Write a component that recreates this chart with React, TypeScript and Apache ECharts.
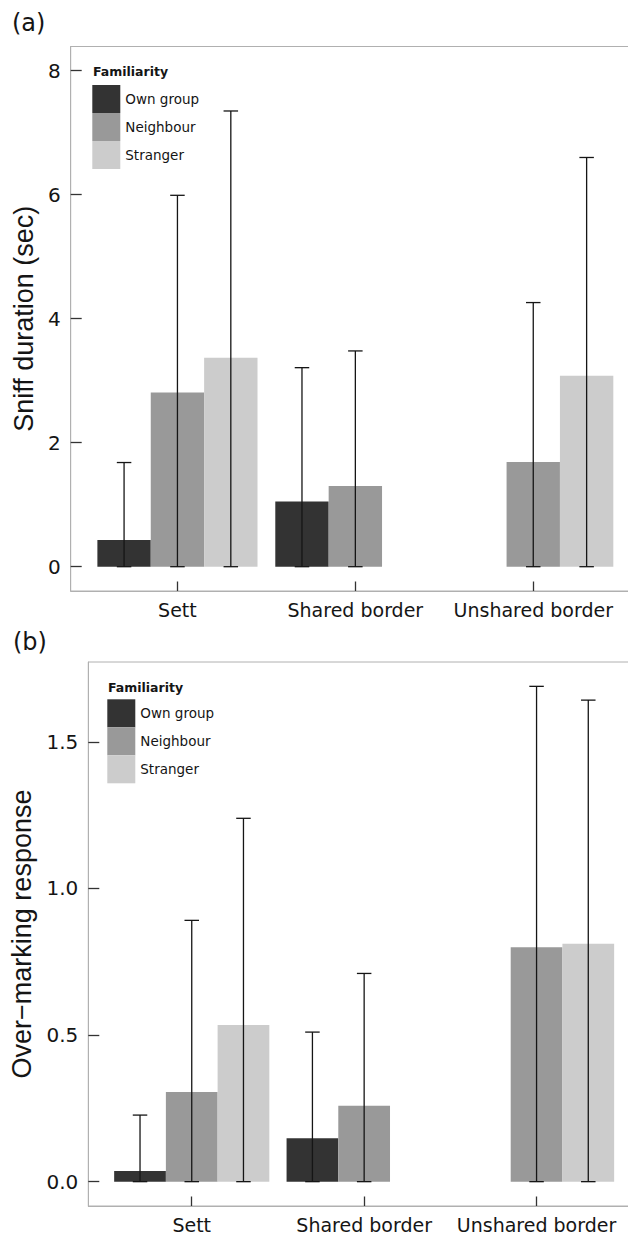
import React, { useEffect, useRef } from "react";
import * as echarts from "echarts";

// ---- data ----
const categories = ["Sett", "Shared border", "Unshared border"];
const groups = ["Own group", "Neighbour", "Stranger"];
const groupColors = ["#333333", "#999999", "#cccccc"];

// (a) Sniff duration (sec)
const sniffOwn = [0.43, 1.05, 0];
const sniffNeighbour = [2.81, 1.3, 1.69];
const sniffStranger = [3.37, 0, 3.08];
const sniffOwnUpper = [1.68, 3.21, null];
const sniffNeighbourUpper = [5.99, 3.48, 4.26];
const sniffStrangerUpper = [7.35, null, 6.6];
const sniffTicks = [0, 2, 4, 6, 8];

// (b) Over-marking response
const markOwn = [0.036, 0.148, 0];
const markNeighbour = [0.306, 0.259, 0.799];
const markStranger = [0.534, 0, 0.811];
const markOwnUpper = [0.227, 0.51, null];
const markNeighbourUpper = [0.891, 0.71, 1.689];
const markStrangerUpper = [1.239, null, 1.642];
const markTicks = [0, 0.5, 1.0, 1.5];

const catPositions = categories.map((_, i) => i + 1);

const AXIS_GRAY = "#b0b0b0";
const INK = "#151515";
const SANS = "DejaVu Sans";

function barSeries(name: string, values: number[], color: string, slot: number, gi: number) {
  return {
    type: "custom",
    name,
    xAxisIndex: gi,
    yAxisIndex: gi,
    itemStyle: { color },
    z: 2,
    encode: { x: 0, y: 1 },
    data: values.map((v, i) => [catPositions[i], v]),
    renderItem: (_p: any, api: any) => {
      const x = api.value(0);
      const v = api.value(1);
      const l = api.coord([x - 0.45 + slot * 0.3, 0]);
      const r = api.coord([x - 0.45 + (slot + 1) * 0.3, v]);
      const h = l[1] - r[1];
      if (!(h > 0)) return null;
      return {
        type: "rect",
        shape: { x: l[0], y: r[1], width: r[0] - l[0], height: h },
        style: { fill: color },
      };
    },
  };
}

function errSeries(name: string, uppers: (number | null)[], slot: number, gi: number) {
  const data = uppers
    .map((u, i) => (u == null ? null : [catPositions[i], u]))
    .filter((d) => d !== null);
  return {
    type: "custom",
    name,
    xAxisIndex: gi,
    yAxisIndex: gi,
    z: 5,
    encode: { x: 0, y: 1 },
    data,
    renderItem: (_p: any, api: any) => {
      const x = api.value(0);
      const u = api.value(1);
      const cx = x - 0.3 + slot * 0.3;
      const b = api.coord([cx, 0]);
      const t = api.coord([cx, u]);
      const half = 7.25;
      const st = { stroke: INK, lineWidth: 1.3 };
      return {
        type: "group",
        children: [
          { type: "line", shape: { x1: b[0], y1: b[1], x2: t[0], y2: t[1] }, style: st },
          { type: "line", shape: { x1: t[0] - half, y1: t[1], x2: t[0] + half, y2: t[1] }, style: st },
          { type: "line", shape: { x1: b[0] - half, y1: b[1], x2: b[0] + half, y2: b[1] }, style: st },
        ],
      };
    },
  };
}

function xAxisDef(gi: number) {
  return {
    gridIndex: gi,
    type: "value",
    min: 0.4,
    max: 3.6,
    axisLine: { show: true, onZero: false, lineStyle: { color: AXIS_GRAY, width: 1 } },
    axisTick: {
      show: true,
      inside: true,
      length: 9.5,
      customValues: catPositions,
      lineStyle: { color: "#333333", width: 1.3 },
    },
    axisLabel: {
      customValues: catPositions,
      formatter: (v: number) => categories[Math.round(v) - 1] ?? "",
      margin: 9,
      fontSize: 19,
      color: INK,
      fontFamily: SANS,
    },
    splitLine: { show: false },
  };
}

function yAxisDef(gi: number, min: number, max: number, ticks: number[], name: string, gap: number, fmt: (v: number) => string) {
  return {
    gridIndex: gi,
    type: "value",
    min,
    max,
    axisLine: { show: true, onZero: false, lineStyle: { color: AXIS_GRAY, width: 1 } },
    axisTick: {
      show: true,
      inside: true,
      length: 11,
      customValues: ticks,
      lineStyle: { color: "#333333", width: 1.3 },
    },
    axisLabel: {
      customValues: ticks,
      formatter: fmt,
      margin: 10,
      fontSize: 20,
      color: INK,
      fontFamily: SANS,
    },
    splitLine: { show: false },
    name,
    nameLocation: "middle",
    nameGap: gap,
    nameRotate: 90,
    nameTextStyle: { fontSize: 27, color: INK, fontFamily: "Liberation Sans" },
  };
}

function legendDef(left: number, top: number) {
  return {
    orient: "vertical",
    left,
    top,
    padding: 0,
    itemGap: 0,
    itemWidth: 28,
    itemHeight: 28,
    icon: "rect",
    selectedMode: false,
    data: groups,
    textStyle: { fontSize: 13.5, color: INK, fontFamily: SANS },
    itemStyle: { borderWidth: 0 },
  };
}

export default function App() {
  const ref = useRef<HTMLDivElement>(null);

  useEffect(() => {
    if (!ref.current) return;
    const chart = echarts.init(ref.current, null, { renderer: "svg" });

    const sniffSets = [sniffOwn, sniffNeighbour, sniffStranger];
    const sniffUppers = [sniffOwnUpper, sniffNeighbourUpper, sniffStrangerUpper];
    const markSets = [markOwn, markNeighbour, markStranger];
    const markUppers = [markOwnUpper, markNeighbourUpper, markStrangerUpper];

    const series: any[] = [];
    groups.forEach((g, s) => {
      series.push(barSeries(g, sniffSets[s], groupColors[s], s, 0));
      series.push(errSeries(g + " err a", sniffUppers[s], s, 0));
      series.push(barSeries(g, markSets[s], groupColors[s], s, 1));
      series.push(errSeries(g + " err b", markUppers[s], s, 1));
    });

    chart.setOption({
      animation: false,
      backgroundColor: "#ffffff",
      textStyle: { fontFamily: SANS },
      grid: [
        {
          left: 70.7,
          top: 46.5,
          width: 569.3,
          height: 544.5,
          show: true,
          borderColor: AXIS_GRAY,
          borderWidth: 1,
          backgroundColor: "transparent",
          containLabel: false,
          outerBoundsMode: "none",
        },
        {
          left: 88.3,
          top: 662,
          width: 551.7,
          height: 544,
          show: true,
          borderColor: AXIS_GRAY,
          borderWidth: 1,
          backgroundColor: "transparent",
          containLabel: false,
          outerBoundsMode: "none",
        },
      ],
      xAxis: [xAxisDef(0), xAxisDef(1)],
      yAxis: [
        yAxisDef(0, -0.392, 8.39, sniffTicks, "Sniff duration (sec)", 24, (v) => String(v)),
        yAxisDef(1, -0.083, 1.772, markTicks, "Over\u2212marking response", 39, (v) => v.toFixed(1)),
      ],
      legend: [legendDef(92.3, 85), legendDef(107.3, 699.3)],
      graphic: [
        {
          type: "text",
          x: 12,
          y: 23,
          style: { text: "(a)", fontSize: 24, fontFamily: SANS, fill: INK, verticalAlign: "middle", align: "left" },
        },
        {
          type: "text",
          x: 13,
          y: 642,
          style: { text: "(b)", fontSize: 24, fontFamily: SANS, fill: INK, verticalAlign: "middle", align: "left" },
        },
        {
          type: "text",
          x: 93,
          y: 71.7,
          style: { text: "Familiarity", fontSize: 12.5, fontWeight: "bold", fontFamily: SANS, fill: INK, verticalAlign: "middle", align: "left" },
        },
        {
          type: "text",
          x: 108,
          y: 687.3,
          style: { text: "Familiarity", fontSize: 12.5, fontWeight: "bold", fontFamily: SANS, fill: INK, verticalAlign: "middle", align: "left" },
        },
      ],
      series,
    });

    return () => chart.dispose();
  }, []);

  return (
    <div
      ref={ref}
      style={{ position: "fixed", left: 0, top: 0, width: 628, height: 1237, background: "#fff" }}
    />
  );
}
